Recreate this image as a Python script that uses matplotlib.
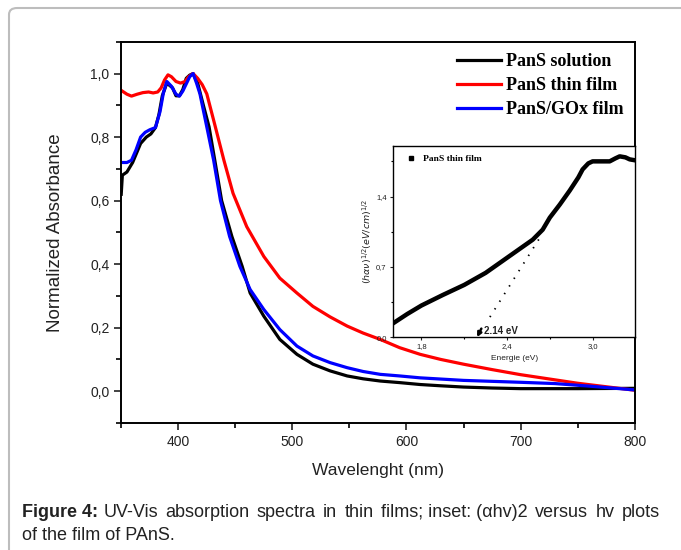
"""
UV-Vis absorption spectra of PAnS (solution, thin film, PAnS/GOx film)
with an inset Tauc-type plot of the thin film.
"""

import matplotlib

matplotlib.use("Agg")
import matplotlib.pyplot as plt
from matplotlib.lines import Line2D
from matplotlib.patches import FancyBboxPatch
from matplotlib.ticker import FuncFormatter, MultipleLocator

# Main spectra
solution_nm = [350, 351, 355, 360, 367, 372, 376, 380, 383, 386, 390, 395, 398, 401,
               404, 407, 410, 413, 417, 422, 427, 432, 438, 447, 456, 463, 475, 489,
               504, 518, 533, 548, 562, 577, 594, 612, 630, 650, 675, 700, 750, 800]
solution_abs = [0.62, 0.68, 0.69, 0.72, 0.78, 0.80, 0.81, 0.83, 0.87, 0.93, 0.97, 0.955,
                0.93, 0.93, 0.95, 0.985, 0.995, 1.00, 0.97, 0.90, 0.832, 0.727, 0.60,
                0.487, 0.393, 0.309, 0.236, 0.163, 0.116, 0.085, 0.064, 0.048, 0.039,
                0.032, 0.027, 0.021, 0.017, 0.013, 0.010, 0.008, 0.008, 0.009]

film_nm = [350, 355, 359, 364, 369, 374, 378, 382, 385, 388, 391, 394, 398, 402, 406,
           409, 413, 417, 421, 425, 431, 440, 448, 460, 475, 489, 504, 518, 533, 548,
           562, 577, 594, 612, 630, 650, 675, 700, 750, 800]
film_abs = [0.947, 0.935, 0.929, 0.935, 0.940, 0.942, 0.939, 0.942, 0.955, 0.98, 0.996,
            0.99, 0.975, 0.970, 0.975, 0.99, 1.00, 0.985, 0.965, 0.936, 0.853, 0.727,
            0.623, 0.518, 0.424, 0.356, 0.309, 0.267, 0.234, 0.205, 0.183, 0.163, 0.137,
            0.116, 0.100, 0.085, 0.068, 0.052, 0.025, 0.003]

gox_nm = [350, 355, 359, 363, 367, 371, 375, 380, 384, 387, 390, 394, 398, 401, 404,
          406, 410, 413, 416, 419, 425, 431, 437, 445, 454, 463, 475, 489, 504, 518,
          533, 548, 562, 577, 594, 612, 650, 700, 730, 760, 780, 800]
gox_abs = [0.72, 0.72, 0.727, 0.76, 0.80, 0.815, 0.823, 0.83, 0.88, 0.94, 0.975, 0.96,
           0.935, 0.929, 0.945, 0.96, 0.99, 1.00, 0.97, 0.936, 0.832, 0.727, 0.60, 0.487,
           0.393, 0.32, 0.257, 0.194, 0.142, 0.111, 0.090, 0.074, 0.062, 0.053, 0.048,
           0.042, 0.034, 0.028, 0.024, 0.016, 0.010, 0.004]

# Inset: (alpha h nu)^1/2 versus photon energy
energy_ev = [1.61, 1.70, 1.80, 1.95, 2.10, 2.25, 2.40, 2.50, 2.58, 2.65, 2.70, 2.77,
             2.84, 2.90, 2.93, 2.97, 3.00, 3.06, 3.12, 3.16, 3.19, 3.23, 3.26, 3.30]
tauc = [0.146, 0.23, 0.315, 0.42, 0.52, 0.64, 0.79, 0.89, 0.97, 1.07, 1.19, 1.32,
        1.46, 1.59, 1.67, 1.73, 1.75, 1.75, 1.75, 1.78, 1.80, 1.79, 1.77, 1.76]
tangent_ev = [2.28, 2.63]
tangent_val = [0.20, 0.99]
gap_ev = 2.19

# first caption line, split into the pieces that get spread out (justified)
caption_chunks = ["UV-Vis", "absorption", "spectra", "in", "thin",
                  "films; inset: (\u03b1hv)2", "versus", "hv", "plots"]
caption_line2 = "of the film of PAnS."

comma = FuncFormatter(lambda v, pos: f"{v:.1f}".replace(".", ","))
TEXT = "#222222"


def draw_main(fig):
    ax = fig.add_axes([0.178, 0.231, 0.754, 0.693])
    ax.plot(solution_nm, solution_abs, color="black", lw=2.3, label="PanS solution")
    ax.plot(film_nm, film_abs, color="#ff0000", lw=2.3, label="PanS thin film")
    ax.plot(gox_nm, gox_abs, color="#0000ff", lw=2.3, label="PanS/GOx film")

    ax.set_xlim(350, 800)
    ax.set_ylim(-0.1, 1.1)
    ax.xaxis.set_major_locator(MultipleLocator(100))
    ax.xaxis.set_minor_locator(MultipleLocator(50))
    ax.yaxis.set_major_locator(MultipleLocator(0.2))
    ax.yaxis.set_minor_locator(MultipleLocator(0.1))
    ax.yaxis.set_major_formatter(comma)
    ax.tick_params(which="major", length=5, width=1.2, labelsize=10, colors=TEXT)
    ax.tick_params(which="minor", length=3.5, width=1.2)
    for s in ax.spines.values():
        s.set_linewidth(1.4)

    ax.set_xlabel("Wavelenght (nm)", fontsize=12.5, labelpad=10, color=TEXT)
    ax.set_ylabel("Normalized Absorbance", fontsize=13.5, labelpad=19, color=TEXT)

    leg = ax.legend(loc="upper right", bbox_to_anchor=(1.01, 1.012), frameon=False,
                    handlelength=2.4, handletextpad=0.3, labelspacing=0.38,
                    prop={"family": "Liberation Serif", "weight": "bold", "size": 13})
    for h in leg.legend_handles:
        h.set_linewidth(2.3)
    return ax


def draw_inset(fig):
    ins = fig.add_axes([0.577, 0.387, 0.356, 0.347])
    ins.plot(energy_ev, tauc, color="black", lw=3.2)
    ins.plot(tangent_ev, tangent_val, color="black", lw=1.3, dashes=(0.8, 4.2))
    ins.annotate("", xy=(gap_ev, 0.0), xytext=(gap_ev + 0.03, 0.085),
                 arrowprops=dict(arrowstyle="-|>", color="black", lw=1.8,
                                 mutation_scale=6, shrinkA=0, shrinkB=0))
    ins.text(gap_ev + 0.05, 0.065, "2.14 eV", fontsize=7, fontweight="bold",
             color=TEXT, va="center")

    ins.set_xlim(1.6, 3.3)
    ins.set_ylim(0.0, 1.9)
    ins.xaxis.set_major_locator(MultipleLocator(0.6))
    ins.xaxis.set_minor_locator(MultipleLocator(0.3))
    ins.yaxis.set_major_locator(MultipleLocator(0.7))
    ins.yaxis.set_minor_locator(MultipleLocator(0.35))
    ins.xaxis.set_major_formatter(comma)
    ins.yaxis.set_major_formatter(comma)
    ins.tick_params(which="major", length=2.5, width=0.8, labelsize=5.5, pad=2,
                    colors=TEXT)
    ins.tick_params(which="minor", length=1.5, width=0.8)
    for s in ins.spines.values():
        s.set_linewidth(1.0)

    ins.set_xlabel("Energie (eV)", fontsize=6, labelpad=3, color=TEXT)
    ins.set_ylabel(r"$(h\alpha\nu)^{1/2}(eV/cm)^{1/2}$", fontsize=6.8, labelpad=1.5,
                   color=TEXT)

    marker = Line2D([], [], color="black", marker="s", markersize=3.5, linestyle="none")
    ins.legend([marker], ["PanS thin film"], loc="upper left", frameon=False,
               handletextpad=0.3, borderaxespad=0.5,
               prop={"family": "Liberation Serif", "weight": "bold", "size": 6.8})
    return ins


def draw_caption(fig):
    """Caption below the chart; first line is justified to the right margin."""
    y1 = 1 - 517 / 550
    y2 = 1 - 540 / 550
    right_px = 660
    renderer = fig.canvas.get_renderer()

    head = fig.text(22 / 681, y1, "Figure 4:", fontsize=13, fontweight="bold",
                    va="baseline", color=TEXT)
    x_px = head.get_window_extent(renderer).x1 + 5

    widths = []
    for w in caption_chunks:
        t = fig.text(0, 0, w, fontsize=13)
        widths.append(t.get_window_extent(renderer).width)
        t.remove()
    gap = (right_px - x_px - sum(widths)) / (len(caption_chunks) - 1)
    for w, wd in zip(caption_chunks, widths):
        fig.text(x_px / fig.bbox.width, y1, w, fontsize=13, va="baseline", color=TEXT)
        x_px += wd + gap

    fig.text(22 / 681, y2, caption_line2, fontsize=13, va="baseline", color=TEXT)


def main():
    plt.rcParams["font.family"] = ["Liberation Sans", "DejaVu Sans"]
    fig = plt.figure(figsize=(6.81, 5.5), dpi=100)

    # outer rounded frame of the figure panel
    frame = FancyBboxPatch((9 / 681, -0.05), 1.2, 1 - 8 / 550 + 0.05,
                           boxstyle="round,pad=0,rounding_size=0.012",
                           transform=fig.transFigure, facecolor="none",
                           edgecolor="#bdbdbd", lw=1.5)
    fig.patches.append(frame)

    draw_main(fig)
    draw_inset(fig)
    draw_caption(fig)

    fig.savefig("out.png", dpi=100)


if __name__ == "__main__":
    main()
